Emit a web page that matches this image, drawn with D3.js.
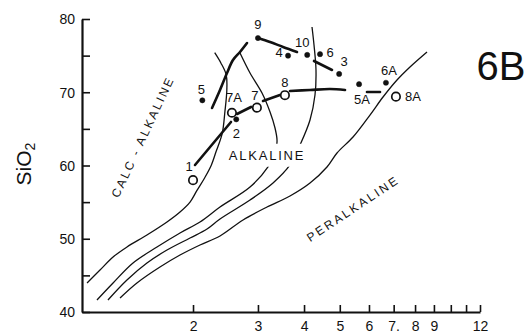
<!DOCTYPE html>
<html><head><meta charset="utf-8">
<script src="https://cdn.jsdelivr.net/npm/d3@7"></script>
<style>
body{margin:0;background:#fff}
svg{display:block}
text{font-family:"Liberation Sans",Arial,sans-serif;fill:#111}
</style>
</head><body>
<svg id="c" width="528" height="334"></svg>
<script>
// ---------- DATA ----------
const xTickValues = [2,3,4,5,6,7,8,9,10,11,12];
const xTickLabels = ["2","3","4","5","6","7.","8","9","","","12"];
const yTickValues = [40,45,50,55,60,65,70,75,80];
const yTickLabels = ["40","","50","","60","","70","","80"];

const sampleNames  = ["1","2","3","4","5","6","7","8","9","10","5A","6A","7A","8A"];
const sampleX      = [2.00,2.62,4.98,3.62,2.12,4.42,2.98,3.55,3.00,4.08,5.64,6.67,2.55,7.10];
const sampleY      = [58.0,66.3,72.5,75.0,68.9,75.2,67.9,69.6,77.4,75.1,71.1,71.3,67.2,69.4];
const sampleFilled = [false,true,true,true,true,true,false,false,true,true,true,true,false,false];

// boundary curves (thin)
const boundaryA = [[1.032,43.96],[1.119,45.73],[1.214,47.51],[1.324,48.87],[1.500,50.51],[1.700,52.29],[1.844,53.65],[1.963,55.0],[2.05,56.6],[2.15,58.3],[2.24,60.0],[2.31,61.9],[2.40,64.4],[2.44,67.3],[2.47,70.3],[2.46,72.4],[2.38,74.0],[2.29,75.4]];
const boundaryB = [[1.098,41.64],[1.214,43.96],[1.375,46.69],[1.597,48.87],[1.844,50.79],[2.089,52.29],[2.367,54.33],[2.855,57.06],[3.194,59.80],[3.357,62.12],[3.379,63.48],[3.337,65.12],[3.235,67.30],[3.077,69.90],[2.855,72.63],[2.682,75.36]];
const boundaryC = [[1.176,41.64],[1.324,44.37],[1.500,46.69],[1.700,48.46],[1.963,50.10],[2.183,51.33],[2.367,52.70],[2.855,55.29],[3.296,57.61],[3.664,60.07],[3.901,62.80],[4.152,66.21],[4.283,69.62],[4.310,73.04],[4.257,76.45],[4.204,78.91]];
const boundaryD = [[1.268,41.91],[1.409,43.96],[1.627,46.14],[1.844,47.78],[2.089,49.15],[2.367,50.38],[2.733,52.56],[3.174,54.33],[3.664,55.84],[4.152,57.61],[4.616,59.80],[4.914,61.71],[5.431,63.89],[6.037,66.89],[6.550,69.35],[7.147,71.67],[7.751,73.45],[8.620,75.50]];

// trend segments (thick)
const trend1to2  = [[2.025,60.07],[2.535,65.94]];
const trend5to9  = [[2.252,67.85],[2.367,70.31],[2.473,72.63],[2.567,74.40],[2.682,75.50],[2.802,76.72]];
const trend9to10 = [[3.001,77.41],[3.235,76.86],[3.508,76.18],[3.828,75.50]];
const trend6to3  = [[4.257,74.27],[4.763,73.04]];
const trend7Ato7 = [[2.632,67.03],[2.873,67.99]];
const trend7to8  = [[3.096,68.81],[3.442,69.62]];
const trend8on   = [[3.664,70.17],[4.152,70.31],[4.703,70.44],[5.167,70.31]];
const trend5A    = [[5.926,70.03],[6.428,70.03]];

const fieldNames = ["CALC - ALKALINE","ALKALINE","PERALKALINE"];
const figureLabel = "6B";
const yAxisTitle = "SiO";
const yAxisTitleSub = "2";

// ---------- LAYOUT ----------
const W = 528, H = 334;
const x = d3.scaleLog().domain([1,12]).range([82,480]);
const y = d3.scaleLinear().domain([40,80]).range([312,19]);
const labelOffsets = { "1":[-4,-14], "2":[0,14], "3":[5,-12], "4":[-9,-3], "5":[-1,-11], "6":[10,-2],
  "7":[-2,-12], "8":[0,-13], "9":[0,-14], "10":[-5,-12], "5A":[3,15], "6A":[3,-12], "7A":[2,-15], "8A":[17,0] };
const fieldPos = [ {x:1.463,y:63.9,rot:-65,size:12,ls:2.2}, {x:3.174,y:61.4,rot:0,size:13,ls:1.8}, {x:5.431,y:54.1,rot:-33.7,size:12,ls:2.4} ];

const svg = d3.select("#c");
svg.append("rect").attr("width",W).attr("height",H).attr("fill","#fff");

const line = d3.line().x(d=>x(d[0])).y(d=>y(d[1])).curve(d3.curveCatmullRom.alpha(0.5));

const gCurves = svg.append("g");
[boundaryA,boundaryB,boundaryC,boundaryD].forEach(c=>{
  gCurves.append("path").attr("d",line(c)).attr("fill","none").attr("stroke","#111").attr("stroke-width",1.3);
});

// field labels
fieldNames.forEach((t,i)=>{
  const p = fieldPos[i];
  const g = svg.append("g").attr("transform",`translate(${x(p.x)},${y(p.y)}) rotate(${p.rot})`);
  const txt = g.append("text").attr("text-anchor","middle").attr("dominant-baseline","central")
    .attr("font-size",p.size).attr("letter-spacing",p.ls).text(t);
  if (t==="ALKALINE") {
    const b = txt.node().getBBox();
    g.insert("rect","text").attr("x",b.x-2).attr("y",b.y-4).attr("width",b.width+4).attr("height",b.height+8).attr("fill","#fff");
  }
});

const gTrend = svg.append("g");
[trend1to2,trend5to9,trend9to10,trend6to3,trend7Ato7,trend7to8,trend8on,trend5A].forEach(c=>{
  gTrend.append("path").attr("d",line(c)).attr("fill","none").attr("stroke","#111").attr("stroke-width",2.6).attr("stroke-linecap","round");
});

// axes
const yAxis = d3.axisLeft(y).tickValues(yTickValues).tickSizeInner(-8).tickSizeOuter(0).tickPadding(7)
  .tickFormat((d,i)=>yTickLabels[i]);
const gy = svg.append("g").attr("transform","translate(82,0)").call(yAxis);
const xAxis = d3.axisBottom(x).tickValues(xTickValues).tickSizeInner(-7).tickSizeOuter(0).tickPadding(9)
  .tickFormat((d,i)=>xTickLabels[i]);
const gx = svg.append("g").attr("transform","translate(0,312)").call(xAxis);
[gx,gy].forEach(g=>{
  g.select(".domain").attr("stroke","#111").attr("stroke-width",2.2);
  g.selectAll(".tick line").attr("stroke","#111").attr("stroke-width",1.6);
  g.selectAll(".tick text").attr("font-size",14).attr("fill","#111").attr("font-family",'"Liberation Sans",Arial,sans-serif');
});
gy.selectAll(".tick text").attr("dy","0.35em");

// points
const pts = sampleNames.map((n,i)=>({n, x:sampleX[i], y:sampleY[i], f:sampleFilled[i]}));
const gp = svg.append("g");
gp.selectAll("circle").data(pts).join("circle")
  .attr("cx",d=>x(d.x)).attr("cy",d=>y(d.y))
  .attr("r",d=>d.f?2.6:4.2)
  .attr("fill",d=>d.f?"#111":"#fff")
  .attr("stroke","#111").attr("stroke-width",d=>d.f?0.5:1.7);
gp.selectAll("text").data(pts).join("text")
  .attr("x",d=>x(d.x)+labelOffsets[d.n][0]).attr("y",d=>y(d.y)+labelOffsets[d.n][1])
  .attr("text-anchor","middle").attr("dominant-baseline","central")
  .attr("font-size",13).text(d=>d.n);

// axis title
const yt = svg.append("text").attr("transform","translate(31,164) rotate(-90)")
  .attr("text-anchor","middle").attr("font-size",21);
yt.append("tspan").text(yAxisTitle);
yt.append("tspan").attr("font-size",14).attr("dy",4).text(yAxisTitleSub);

// figure label
svg.append("text").attr("x",501).attr("y",80).attr("text-anchor","middle").attr("font-size",40).text(figureLabel);
</script>
</body></html>
